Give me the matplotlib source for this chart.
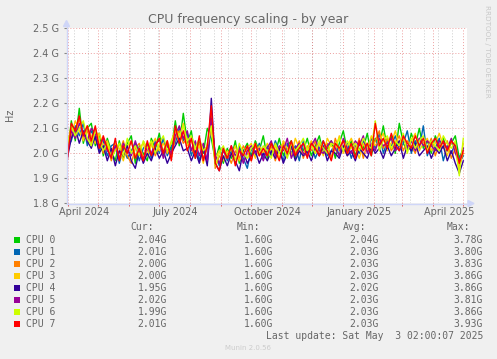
import matplotlib
matplotlib.use('Agg')
import matplotlib.pyplot as plt
from matplotlib.patches import Rectangle, Polygon
from matplotlib.lines import Line2D
import pandas as pd
from datetime import datetime, timedelta

W, H = 497, 359

title = "CPU frequency scaling - by year"
ylabel = "Hz"
cpu_names = ["CPU 0", "CPU 1", "CPU 2", "CPU 3", "CPU 4", "CPU 5", "CPU 6", "CPU 7"]
colors = ['#00CC00', '#0066B3', '#FF8000', '#FFCC00', '#330099', '#990099', '#CCFF00', '#FF0000']

y_ticks = [1.8, 1.9, 2.0, 2.1, 2.2, 2.3, 2.4, 2.5]
y_tick_labels = ["1.8 G", "1.9 G", "2.0 G", "2.1 G", "2.2 G", "2.3 G", "2.4 G", "2.5 G"]
x_label_dates = ["2024-04-17", "2024-07-17", "2024-10-17", "2025-01-17", "2025-04-17"]
x_labels = ["April 2024", "July 2024", "October 2024", "January 2025", "April 2025"]

cur = ["2.04G", "2.01G", "2.00G", "2.00G", "1.95G", "2.02G", "1.99G", "2.01G"]
mins = ["1.60G"] * 8
avg = ["2.04G", "2.03G", "2.03G", "2.03G", "2.02G", "2.03G", "2.03G", "2.03G"]
maxs = ["3.78G", "3.80G", "3.83G", "3.86G", "3.86G", "3.81G", "3.86G", "3.93G"]
last_update = "Last update: Sat May  3 02:00:07 2025"
munin_version = "Munin 2.0.56"
rrd_credit = "RRDTOOL / TOBI OETIKER"

# 4-day samples starting 2024-03-31 (GHz)
dates = pd.date_range("2024-03-31", periods=100, freq="4D")

cpu0 = [1.99, 2.13, 2.05, 2.18, 2.04, 2.10, 2.12, 2.03, 2.08, 1.99,
        2.06, 2.01, 1.97, 2.05, 1.98, 2.04, 2.07, 1.96, 2.03, 2.00,
        1.97, 2.06, 2.02, 2.08, 1.99, 2.04, 2.01, 2.13, 2.03, 2.16,
        2.04, 2.09, 1.98, 2.05, 2.00, 2.10, 2.06, 1.97, 2.03, 1.96,
        2.02, 1.98, 2.05, 1.96, 2.01, 2.04, 1.99, 2.05, 2.01, 2.07,
        1.98, 2.04, 2.00, 2.06, 1.99, 2.03, 2.05, 1.98, 2.04, 2.01,
        2.06, 1.99, 2.03, 2.07, 2.00, 2.02, 2.05, 1.98, 2.04, 2.09,
        2.01, 2.05, 1.99, 2.04, 2.02, 2.08, 1.99, 2.06, 2.03, 2.11,
        2.02, 2.07, 2.00, 2.12, 2.04, 2.01, 2.08, 2.03, 2.10, 2.02,
        2.05, 2.00, 2.07, 2.03, 2.06, 2.01, 2.04, 2.07, 1.98, 2.02]
cpu1 = [2.02, 2.05, 2.11, 2.07, 2.12, 2.03, 2.09, 2.06, 2.01, 2.05,
        1.99, 2.03, 2.04, 1.96, 2.02, 1.98, 2.01, 2.04, 1.97, 2.02,
        2.04, 1.98, 2.05, 2.00, 2.06, 1.99, 2.03, 2.04, 2.10, 2.05,
        2.08, 1.99, 2.04, 1.97, 2.03, 1.96, 2.12, 2.00, 1.95, 2.02,
        1.97, 2.01, 1.96, 2.03, 1.98, 1.94, 2.02, 1.99, 2.04, 1.98,
        2.03, 1.99, 2.05, 2.01, 1.97, 2.04, 2.00, 2.03, 1.97, 2.05,
        2.00, 2.04, 1.98, 2.02, 2.05, 1.99, 2.01, 2.04, 1.99, 2.02,
        2.04, 1.98, 2.03, 2.00, 2.05, 2.01, 2.06, 2.02, 2.08, 2.00,
        2.05, 2.03, 2.07, 2.01, 2.04, 2.09, 2.00, 2.05, 2.02, 2.11,
        1.99, 2.04, 2.02, 2.06, 1.97, 2.03, 2.00, 2.04, 1.96, 1.99]
cpu2 = [2.04, 2.10, 2.08, 2.14, 2.06, 2.09, 2.04, 2.10, 2.05, 2.00,
        2.03, 1.97, 2.02, 2.00, 2.05, 1.99, 1.96, 2.02, 2.04, 1.98,
        2.01, 2.04, 1.99, 2.03, 2.01, 2.05, 1.98, 2.06, 2.09, 2.04,
        2.06, 2.02, 1.99, 2.04, 1.98, 2.02, 2.16, 1.94, 1.99, 1.97,
        2.00, 1.96, 2.01, 1.98, 2.03, 2.00, 1.97, 2.03, 1.99, 2.02,
        2.00, 2.03, 1.97, 2.02, 2.04, 1.99, 2.02, 2.00, 2.05, 1.98,
        2.03, 2.01, 2.05, 1.99, 2.02, 2.04, 1.98, 2.06, 2.01, 2.03,
        1.99, 2.03, 2.01, 2.06, 1.98, 2.04, 2.01, 2.05, 2.09, 2.02,
        2.06, 2.01, 2.04, 2.07, 2.01, 2.05, 2.03, 2.00, 2.06, 2.04,
        2.02, 2.06, 1.99, 2.04, 2.02, 2.05, 1.98, 2.02, 1.95, 2.00]
cpu3 = [2.01, 2.07, 2.13, 2.09, 2.05, 2.11, 2.07, 2.04, 2.08, 2.03,
        2.05, 2.00, 2.04, 2.02, 1.97, 2.03, 2.05, 1.99, 2.02, 2.04,
        1.99, 2.03, 2.06, 2.01, 2.04, 2.00, 2.05, 2.09, 2.05, 2.12,
        2.03, 2.05, 2.01, 2.03, 1.96, 2.04, 2.09, 1.98, 2.01, 1.97,
        2.01, 1.99, 2.03, 1.97, 2.00, 2.02, 2.04, 1.98, 2.03, 2.00,
        2.04, 2.01, 2.03, 1.98, 2.05, 2.02, 1.99, 2.06, 2.02, 2.00,
        2.02, 2.05, 2.00, 2.04, 1.99, 2.06, 2.03, 2.01, 2.07, 2.00,
        2.03, 2.06, 2.02, 1.98, 2.04, 2.01, 2.07, 2.03, 2.05, 2.08,
        2.01, 2.04, 2.09, 2.03, 2.06, 2.02, 2.05, 2.08, 2.01, 2.04,
        2.06, 2.01, 2.04, 2.08, 2.03, 1.99, 2.05, 2.01, 1.93, 2.04]
cpu4 = [1.98, 2.06, 2.10, 2.04, 2.09, 2.05, 2.02, 2.07, 2.00, 2.03,
        1.97, 2.02, 1.95, 2.01, 1.99, 2.03, 1.97, 1.94, 2.01, 1.96,
        2.00, 1.97, 2.02, 1.98, 2.01, 1.96, 2.00, 2.03, 2.06, 2.01,
        2.02, 1.97, 2.01, 1.96, 2.02, 1.95, 2.22, 1.96, 1.93, 1.99,
        1.95, 2.00, 1.97, 1.93, 2.01, 1.96, 1.99, 2.01, 1.96, 2.00,
        1.97, 2.01, 1.98, 2.02, 1.96, 2.00, 2.03, 1.97, 2.01, 1.99,
        2.01, 1.97, 2.02, 1.99, 2.03, 1.97, 2.01, 2.00, 1.98, 2.03,
        1.99, 2.01, 1.97, 2.02, 2.00, 1.98, 2.03, 2.00, 2.02, 1.98,
        2.03, 1.99, 2.02, 2.05, 1.98, 2.03, 2.01, 2.04, 1.99, 2.01,
        2.03, 1.98, 2.02, 2.00, 2.03, 1.97, 2.01, 1.96, 1.92, 1.97]
cpu5 = [2.00, 2.09, 2.06, 2.12, 2.08, 2.05, 2.10, 2.08, 2.03, 2.06,
        2.01, 1.99, 2.03, 1.98, 2.04, 2.01, 1.99, 2.05, 2.00, 1.97,
        2.03, 2.00, 2.04, 2.05, 1.98, 2.03, 2.00, 2.07, 2.11, 2.06,
        2.09, 2.01, 2.05, 1.99, 2.04, 1.97, 2.14, 1.99, 1.96, 2.01,
        1.98, 2.03, 1.99, 2.02, 1.96, 2.01, 2.03, 2.00, 2.02, 1.97,
        2.02, 2.05, 1.99, 2.03, 2.01, 2.06, 1.98, 2.02, 2.04, 2.00,
        1.99, 2.03, 2.06, 2.01, 2.00, 2.03, 2.05, 2.02, 1.99, 2.06,
        2.02, 2.00, 2.05, 2.03, 2.07, 2.00, 2.04, 2.01, 2.06, 2.03,
        2.04, 2.06, 2.01, 2.03, 2.07, 2.02, 2.05, 2.01, 2.06, 2.03,
        2.05, 2.03, 2.01, 2.05, 2.04, 2.02, 2.06, 2.00, 1.97, 2.02]
cpu6 = [2.03, 2.11, 2.07, 2.10, 2.13, 2.06, 2.03, 2.09, 2.05, 2.01,
        2.04, 1.98, 2.01, 2.04, 1.99, 2.06, 2.00, 2.03, 1.99, 2.05,
        2.02, 2.05, 2.00, 2.04, 2.07, 2.01, 2.04, 2.10, 2.07, 2.11,
        2.05, 2.07, 2.02, 2.06, 2.01, 2.03, 2.11, 1.95, 2.00, 2.03,
        1.99, 2.02, 1.97, 2.04, 2.00, 1.98, 2.02, 2.04, 2.00, 2.03,
        2.01, 1.98, 2.04, 2.00, 2.03, 1.98, 2.04, 2.01, 2.03, 2.06,
        2.01, 2.03, 2.00, 2.05, 2.02, 2.00, 2.04, 2.03, 2.06, 2.01,
        2.05, 2.02, 2.04, 2.01, 2.06, 2.03, 2.02, 2.13, 2.01, 2.05,
        2.07, 2.02, 2.05, 2.03, 2.08, 2.00, 2.06, 2.02, 2.05, 2.07,
        2.01, 2.05, 2.03, 2.01, 2.07, 2.04, 2.02, 2.05, 1.91, 2.06]
cpu7 = [1.97, 2.12, 2.09, 2.15, 2.07, 2.11, 2.05, 2.11, 2.02, 2.07,
        2.02, 1.98, 2.06, 1.97, 2.03, 2.00, 2.05, 1.98, 2.02, 1.97,
        2.05, 1.99, 2.03, 2.06, 2.00, 2.05, 1.97, 2.11, 2.04, 2.09,
        2.01, 2.06, 1.98, 2.07, 1.97, 2.03, 2.19, 1.96, 1.93, 2.02,
        1.98, 2.03, 1.95, 2.01, 1.99, 2.03, 1.97, 2.04, 1.99, 2.02,
        1.99, 2.04, 2.01, 1.97, 2.03, 2.00, 2.05, 1.99, 2.02, 2.04,
        1.98, 2.04, 2.02, 1.99, 2.05, 2.01, 1.97, 2.04, 2.02, 2.05,
        2.00, 2.04, 1.98, 2.05, 2.01, 2.04, 1.99, 2.12, 2.03, 2.06,
        2.02, 2.08, 2.03, 2.01, 2.07, 2.04, 2.02, 2.07, 2.03, 2.06,
        2.00, 2.04, 2.06, 2.02, 2.05, 2.01, 2.05, 2.03, 1.96, 2.01]
series = [cpu0, cpu1, cpu2, cpu3, cpu4, cpu5, cpu6, cpu7]

FONT_COL = '#666666'
AXIS_COL = '#CFD6F8'

fig = plt.figure(figsize=(W / 100, H / 100), dpi=100, facecolor='#F0F0F0')


def fx(x):
    return x / W


def fy(y):
    return 1 - y / H


left, right, top, bottom = 67, 467, 28.3, 203.3
ax = fig.add_axes([fx(left), fy(bottom), (right - left) / W, (bottom - top) / H])
ax.set_facecolor('white')

x0 = datetime(2024, 4, 1) - timedelta(days=1.3)
x1 = x0 + timedelta(days=400)
ax.set_xlim(x0, x1)
ax.set_ylim(1.8, 2.5)

# grid
month_starts = pd.date_range("2024-04-01", "2025-05-01", freq="MS")
biweekly = pd.date_range("2024-04-07", "2025-05-03", freq="14D")
for d in biweekly:
    ax.axvline(d, color='#8f8f8f', alpha=0.45, lw=0.7, dashes=(1, 2), zorder=0.5)
for d in month_starts:
    ax.axvline(d, color='#de5050', alpha=0.55, lw=0.7, dashes=(1, 2), zorder=0.6)
for yv in y_ticks[1:]:
    ax.axhline(yv, color='#de5050', alpha=0.55, lw=0.7, dashes=(1, 2), zorder=0.6)

for vals, c in zip(series, colors):
    ax.plot(dates, vals, color=c, lw=1.0, zorder=2)

for s in ax.spines.values():
    s.set_visible(False)

ax.set_yticks(y_ticks)
ax.set_yticklabels(y_tick_labels)
ax.tick_params(axis='y', length=2.5, width=0.8, color='#888888', pad=3.5,
               labelsize=7, labelcolor=FONT_COL)
ax.set_xticks(pd.to_datetime(x_label_dates))
ax.set_xticklabels(x_labels)
ax.set_xticks(month_starts, minor=True)
ax.tick_params(axis='x', which='major', length=0, pad=3, labelsize=7, labelcolor=FONT_COL)
ax.tick_params(axis='x', which='minor', length=2, width=0.7, color='#de5050', direction='out')

# axis lines with arrows (in figure pixel coords)
fig.add_artist(Line2D([fx(66.5), fx(66.5)], [fy(203.5), fy(24)], color=AXIS_COL, lw=1.0))
fig.add_artist(Line2D([fx(66.5), fx(470)], [fy(203.5), fy(203.5)], color=AXIS_COL, lw=1.0))
fig.add_artist(Polygon([[fx(63.5), fy(26.5)], [fx(69.5), fy(26.5)], [fx(66.5), fy(20.5)]],
                       closed=True, color=AXIS_COL))
fig.add_artist(Polygon([[fx(468), fy(200.5)], [fx(468), fy(206.5)], [fx(474), fy(203.5)]],
                       closed=True, color=AXIS_COL))

fig.text(fx(248), fy(19), title, ha='center', va='center', fontsize=9, color=FONT_COL)
fig.text(fx(9.5), fy(114.5), ylabel, ha='center', va='center', rotation=90,
         fontsize=7, color=FONT_COL)
fig.text(fx(487.5), fy(5), rrd_credit, ha='center', va='top', rotation=270,
         fontsize=5.2, color='#c8c8c8')

mono = 'DejaVu Sans Mono'
fs = 7
hdr_y = 227
fig.text(fx(154), fy(hdr_y), "Cur:", ha='right', va='center', family=mono, fontsize=fs, color=FONT_COL)
fig.text(fx(260), fy(hdr_y), "Min:", ha='right', va='center', family=mono, fontsize=fs, color=FONT_COL)
fig.text(fx(366), fy(hdr_y), "Avg:", ha='right', va='center', family=mono, fontsize=fs, color=FONT_COL)
fig.text(fx(470.5), fy(hdr_y), "Max:", ha='right', va='center', family=mono, fontsize=fs, color=FONT_COL)
for i, name in enumerate(cpu_names):
    yy = 240 + i * 12
    fig.add_artist(Rectangle((fx(14), fy(yy + 3)), 6 / W, 6 / H, color=colors[i], lw=0))
    fig.text(fx(26), fy(yy), name, ha='left', va='center', family=mono, fontsize=fs, color=FONT_COL)
    fig.text(fx(167), fy(yy), cur[i], ha='right', va='center', family=mono, fontsize=fs, color=FONT_COL)
    fig.text(fx(273), fy(yy), mins[i], ha='right', va='center', family=mono, fontsize=fs, color=FONT_COL)
    fig.text(fx(378.5), fy(yy), avg[i], ha='right', va='center', family=mono, fontsize=fs, color=FONT_COL)
    fig.text(fx(483), fy(yy), maxs[i], ha='right', va='center', family=mono, fontsize=fs, color=FONT_COL)
fig.text(fx(483), fy(336), last_update, ha='right', va='center', family=mono, fontsize=fs, color=FONT_COL)
fig.text(fx(248), fy(348), munin_version, ha='center', va='center', fontsize=5, color='#cccccc')

fig.savefig('out.png', dpi=100, facecolor=fig.get_facecolor())
